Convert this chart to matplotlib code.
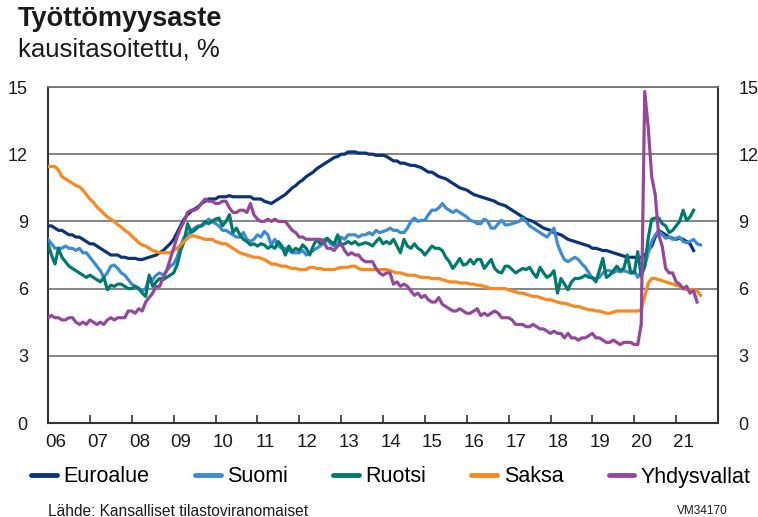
import numpy as np
import matplotlib.pyplot as plt
from matplotlib.lines import Line2D

plt.rcParams['font.family'] = ['Liberation Sans', 'DejaVu Sans']

# monthly values, first value = Jan 2006
euroalue = [
    8.8, 8.8, 8.7, 8.6, 8.6, 8.5, 8.4, 8.4, 8.3, 8.3, 8.2, 8.1,
    8.0, 8.0, 7.9, 7.8, 7.7, 7.6, 7.5, 7.5, 7.5, 7.4, 7.4, 7.35,
    7.35, 7.35, 7.3, 7.3, 7.35, 7.4, 7.45, 7.5, 7.6, 7.7, 7.85, 8.0,
    8.2, 8.5, 8.8, 9.1, 9.3, 9.45, 9.55, 9.65, 9.8, 9.9, 10.0, 10.0,
    10.0, 10.1, 10.1, 10.1, 10.15, 10.1, 10.1, 10.1, 10.1, 10.1, 10.1, 10.0,
    10.0, 10.0, 9.9, 9.85, 9.8, 9.9, 10.0, 10.1, 10.2, 10.35, 10.5, 10.6,
    10.75, 10.85, 11.0, 11.1, 11.2, 11.35, 11.45, 11.55, 11.65, 11.75, 11.85, 11.9,
    12.0, 12.0, 12.1, 12.1, 12.1, 12.05, 12.05, 12.05, 12.0, 12.0, 11.95, 11.95,
    11.95, 11.9, 11.8, 11.7, 11.7, 11.6, 11.6, 11.55, 11.5, 11.5, 11.45, 11.4,
    11.3, 11.2, 11.2, 11.1, 11.0, 10.95, 10.9, 10.8, 10.7, 10.6, 10.5, 10.45,
    10.4, 10.3, 10.2, 10.15, 10.1, 10.05, 10.0, 9.95, 9.9, 9.8, 9.75, 9.7,
    9.6, 9.5, 9.4, 9.3, 9.2, 9.1, 9.05, 9.0, 8.9, 8.8, 8.7, 8.65,
    8.6, 8.5, 8.45, 8.4, 8.3, 8.2, 8.15, 8.1, 8.05, 8.0, 7.95, 7.9,
    7.8, 7.8, 7.75, 7.7, 7.7, 7.65, 7.6, 7.55, 7.5, 7.45, 7.4, 7.4,
    7.4, 7.35, 7.4, 7.5, 7.7, 7.9, 8.3, 8.6, 8.5, 8.4, 8.3, 8.25,
    8.2, 8.25, 8.2, 8.1, 8.0, 7.7,
]

suomi = [
    8.2, 8.0, 7.8, 7.8, 7.8, 7.9, 7.8, 7.8, 7.7, 7.8, 7.6, 7.6,
    7.4, 7.2, 7.0, 6.8, 6.5, 6.7, 7.0, 7.05, 6.9, 6.7, 6.6, 6.4,
    6.2, 6.1, 6.0, 5.9, 6.0, 6.5, 6.4, 6.6, 6.7, 6.6, 6.8, 7.0,
    7.1, 7.4, 7.9, 8.3, 8.4, 8.6, 8.7, 8.8, 8.8, 8.9, 9.1, 9.0,
    8.9, 8.8, 8.6, 8.6, 8.5, 8.4, 8.3, 8.3, 8.5, 8.2, 8.1, 8.2,
    8.4, 8.3, 8.55, 8.4, 7.95, 8.2, 7.9, 7.8, 7.8, 7.7, 7.6, 7.6,
    7.6, 7.7, 7.5, 7.6, 7.7, 7.8, 7.9, 8.2, 8.2, 8.0, 7.9, 8.0,
    8.3, 8.2, 8.4, 8.4, 8.4, 8.3, 8.4, 8.4, 8.5, 8.4, 8.6, 8.5,
    8.55, 8.6, 8.7, 8.6, 8.6, 8.5, 8.5, 8.7, 9.0, 9.15, 9.0, 9.05,
    9.05, 9.3, 9.5, 9.5, 9.6, 9.8, 9.6, 9.5, 9.4, 9.5, 9.4, 9.3,
    9.2, 9.05, 9.0, 8.9, 8.9, 9.1, 9.0, 8.7, 8.7, 8.9, 9.05, 8.85,
    8.85, 8.9, 8.95, 9.0, 9.15, 9.0, 8.8, 8.7, 8.6, 8.5, 8.4, 8.3,
    8.5, 8.7, 8.0, 7.6, 7.3, 7.2, 7.3, 7.4, 7.3, 7.1, 6.95, 6.7,
    6.45, 6.45, 6.5, 6.7, 6.8, 6.8, 6.7, 6.8, 6.75, 6.8, 6.75, 6.7,
    6.8, 6.5, 6.75, 7.0, 7.6, 8.1, 8.4, 8.55, 8.4, 8.25, 8.3, 8.2,
    8.25, 8.3, 8.1, 8.05, 8.1, 8.2, 8.0, 7.95,
]

ruotsi = [
    8.0, 7.5, 7.1, 7.8, 7.4, 7.2, 7.0, 6.9, 6.8, 6.7, 6.6, 6.5,
    6.6, 6.5, 6.4, 6.3, 6.5, 5.95, 6.15, 6.1, 6.2, 6.2, 6.1, 6.0,
    6.0, 6.1, 6.0, 5.8, 5.65, 6.6, 6.1, 6.3, 6.45, 6.4, 6.5, 6.6,
    6.7, 7.05, 7.7, 8.1, 8.9, 8.5, 8.6, 8.75, 8.8, 9.0, 8.9, 9.0,
    9.1, 9.15, 8.8, 9.0, 9.3, 8.5, 8.7, 8.4, 8.2, 8.1, 7.95, 8.0,
    7.9, 8.0, 7.95, 7.8, 7.9, 7.8, 8.1, 7.9, 7.5, 7.9, 7.65, 7.8,
    7.7, 7.95, 7.8, 7.5, 7.9, 8.2, 8.0, 8.0, 8.25, 8.1, 8.0, 8.4,
    7.95, 8.0, 8.1, 8.0, 8.1, 7.95, 8.0, 8.05, 8.0, 7.9, 8.1, 8.25,
    8.0, 8.1, 8.0, 8.2, 7.9, 7.6, 8.2, 7.9, 7.8, 8.0, 7.8, 7.7,
    7.5, 7.7, 7.9, 7.8, 7.8, 7.7, 7.4, 7.2, 6.9, 7.1, 7.35, 7.05,
    7.1, 7.3, 7.1, 7.3, 7.3, 6.9, 7.1, 7.3, 6.9, 6.75, 6.7, 7.0,
    7.0, 6.85, 6.7, 6.8, 6.9, 6.85, 6.95, 6.7, 6.5, 6.95, 6.7, 6.5,
    6.6, 6.8, 5.8, 6.45, 6.2, 5.95, 6.3, 6.45, 6.45, 6.5, 6.6, 6.5,
    6.5, 6.3, 6.8, 7.35, 6.5, 6.6, 6.8, 7.0, 6.8, 6.9, 7.5, 6.7,
    6.7, 7.65, 6.55, 7.0, 8.25, 9.1, 9.15, 9.15, 8.9, 8.8, 8.5, 8.6,
    8.8, 9.0, 9.5, 9.05, 9.2, 9.5,
]

saksa = [
    11.45, 11.45, 11.45, 11.3, 11.0, 10.9, 10.8, 10.7, 10.6, 10.55, 10.4, 10.2,
    10.0, 9.85, 9.65, 9.5, 9.35, 9.2, 9.1, 9.0, 8.85, 8.75, 8.6, 8.5,
    8.35, 8.2, 8.05, 7.95, 7.9, 7.8, 7.7, 7.65, 7.6, 7.6, 7.6, 7.6,
    7.7, 7.8, 7.95, 8.1, 8.25, 8.35, 8.35, 8.3, 8.25, 8.2, 8.2, 8.2,
    8.1, 8.05, 8.0, 8.0, 7.9, 7.8, 7.7, 7.6, 7.55, 7.5, 7.45, 7.4,
    7.4, 7.35, 7.3, 7.2, 7.1, 7.1, 7.05, 7.0, 7.0, 6.95, 6.9, 6.9,
    6.85, 6.85, 6.85, 6.95, 6.95, 6.9, 6.9, 6.85, 6.85, 6.85, 6.85, 6.9,
    6.95, 6.95, 6.95, 7.0, 7.0, 6.9, 6.85, 6.85, 6.85, 6.85, 6.85, 6.85,
    6.85, 6.85, 6.8, 6.75, 6.7, 6.7, 6.65, 6.6, 6.6, 6.6, 6.55, 6.5,
    6.5, 6.5, 6.45, 6.45, 6.45, 6.4, 6.35, 6.3, 6.3, 6.3, 6.25, 6.25,
    6.25, 6.2, 6.2, 6.15, 6.15, 6.1, 6.05, 6.0, 6.0, 6.0, 6.0, 6.0,
    5.95, 5.9, 5.85, 5.8, 5.8, 5.75, 5.7, 5.65, 5.65, 5.6, 5.55, 5.5,
    5.5, 5.45, 5.4, 5.35, 5.35, 5.3, 5.25, 5.2, 5.2, 5.15, 5.1, 5.05,
    5.05, 5.0, 5.0, 4.95, 4.9, 4.9, 4.95, 5.0, 5.0, 5.0, 5.0, 5.0,
    5.0, 5.0, 5.05, 5.65, 6.25, 6.45, 6.45, 6.4, 6.35, 6.3, 6.25, 6.2,
    6.15, 6.1, 6.0, 5.95, 5.95, 5.95, 5.9, 5.7,
]

yhdysvallat = [
    4.7, 4.8, 4.7, 4.7, 4.6, 4.6, 4.7, 4.7, 4.5, 4.4, 4.5, 4.4,
    4.6, 4.5, 4.4, 4.5, 4.4, 4.6, 4.7, 4.6, 4.7, 4.7, 4.7, 5.0,
    5.0, 4.9, 5.1, 5.0, 5.4, 5.6, 5.8, 6.1, 6.1, 6.5, 6.8, 7.3,
    7.8, 8.3, 8.7, 9.0, 9.4, 9.5, 9.5, 9.6, 9.8, 10.0, 9.9, 9.9,
    9.8, 9.8, 9.9, 9.9, 9.6, 9.4, 9.4, 9.5, 9.5, 9.4, 9.8, 9.3,
    9.1, 9.0, 9.0, 9.1, 9.0, 9.1, 9.0, 9.0, 9.0, 8.8, 8.6, 8.5,
    8.3, 8.3, 8.2, 8.2, 8.2, 8.2, 8.2, 8.1, 7.8, 7.8, 7.7, 7.9,
    8.0, 7.7, 7.5, 7.6, 7.5, 7.5, 7.3, 7.2, 7.2, 7.2, 6.9, 6.7,
    6.6, 6.7, 6.7, 6.2, 6.3, 6.1, 6.2, 6.1, 5.9, 5.7, 5.8, 5.6,
    5.7, 5.5, 5.4, 5.4, 5.6, 5.3, 5.2, 5.1, 5.0, 5.0, 5.1, 5.0,
    4.9, 4.9, 5.0, 5.1, 4.8, 4.9, 4.8, 4.9, 5.0, 4.9, 4.7, 4.7,
    4.7, 4.6, 4.4, 4.4, 4.4, 4.3, 4.3, 4.4, 4.3, 4.2, 4.2, 4.1,
    4.0, 4.1, 4.0, 4.0, 3.8, 4.0, 3.8, 3.8, 3.7, 3.8, 3.8, 3.9,
    4.0, 3.8, 3.8, 3.7, 3.6, 3.6, 3.7, 3.6, 3.5, 3.6, 3.6, 3.6,
    3.5, 3.5, 4.4, 14.8, 13.2, 11.0, 10.2, 8.4, 7.9, 6.9, 6.7, 6.7,
    6.3, 6.2, 6.0, 6.1, 5.8, 5.9, 5.4,
]

names = ['Euroalue', 'Suomi', 'Ruotsi', 'Saksa', 'Yhdysvallat']
colors = ['#0b3478', '#3d8bd0', '#007a6e', '#f7891f', '#96479d']
year_labels = ['06', '07', '08', '09', '10', '11', '12', '13', '14', '15',
               '16', '17', '18', '19', '20', '21']


def months(series):
    # x position in years, Jan 2006 = 2006.0
    return 2006 + np.arange(len(series)) / 12.0


fig = plt.figure(figsize=(7.58, 5.17), dpi=100)
ax = fig.add_axes([48 / 758, 1 - 423 / 517, 670 / 758, 336 / 517])

grid_col = '#707070'
for y in [3, 6, 9, 12, 15]:
    ax.axhline(y, color=grid_col, lw=1.2, zorder=1)

handles = []
for s, n, c in zip([euroalue, suomi, ruotsi, saksa, yhdysvallat], names, colors):
    ax.plot(months(s), s, color=c, lw=2.3, solid_joinstyle='round', zorder=3)
    handles.append(Line2D([], [], color=c, lw=3.5, solid_capstyle='round'))

ax.set_xlim(2006, 2022)
ax.set_ylim(0, 15)

ax.set_yticks([0, 3, 6, 9, 12, 15])
ax.tick_params(axis='y', left=False, right=False, labelleft=True, labelright=True,
               labelsize=13, pad=11, colors='#1a1a1a')

ax.set_xticks(np.arange(2007, 2022))
ax.set_xticks(np.arange(2006, 2022) + 0.18, minor=True)
ax.set_xticklabels([])
ax.set_xticklabels(year_labels, minor=True)
ax.tick_params(axis='x', which='major', direction='in', length=6, width=1.2, color='#333333')
ax.tick_params(axis='x', which='minor', length=0, labelsize=13.5, pad=8, colors='#1a1a1a')

for side in ['left', 'right', 'bottom']:
    ax.spines[side].set_color('#333333')
    ax.spines[side].set_linewidth(1.5)
ax.spines['top'].set_color(grid_col)
ax.spines['top'].set_linewidth(1.2)

fig.text(18 / 758, 1 - 6 / 517, 'Työttömyysaste', fontsize=19.5, fontweight='bold',
         va='top', ha='left', color='#1a1a1a')
fig.text(18 / 758, 1 - 38 / 517, 'kausitasoitettu, %', fontsize=18.5,
         va='top', ha='left', color='#1a1a1a')

fig.legend(handles, names, loc='center', bbox_to_anchor=(391 / 758, 1 - 477 / 517), ncol=5,
           frameon=False, fontsize=15.5, handlelength=1.2, handletextpad=0.3,
           columnspacing=2.1, borderaxespad=0)

fig.text(48 / 758, 1 - 511 / 517, 'Lähde: Kansalliset tilastoviranomaiset', fontsize=11.2,
         va='center', ha='left', color='#1a1a1a')
fig.text(728 / 758, 1 - 511 / 517, 'VM34170', fontsize=8.5,
         va='center', ha='right', color='#1a1a1a')

fig.savefig('out.png', dpi=100)
